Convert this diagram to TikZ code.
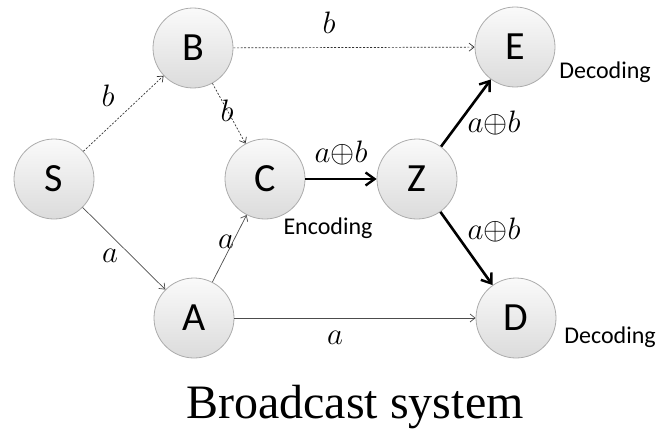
\documentclass[tikz,border=0pt]{standalone}
\usepackage{fix-cm}
\usepackage{fontspec}
\setmainfont{Liberation Serif}
\newfontfamily\nodefont{Carlito}
\usetikzlibrary{positioning,arrows.meta,calc}

\newcommand{\xorab}{$a{\oplus}b$}

\begin{document}
\begin{tikzpicture}[
            x=1pt, y=-1pt,
            vtx/.style={
                circle, draw=gray!65, line width=0.8pt, top color=gray!4, bottom color=gray!28, minimum size=80pt, inner sep=0pt, font=\nodefont\fontsize{40}{40}\selectfont
            },
            lbl/.style={
                inner sep=0pt, font=\fontsize{31}{31}\selectfont
            },
            note/.style={
                inner sep=0pt, font=\nodefont\fontsize{24}{24}\selectfont
            },
            flow/.style={
                -{Straight Barb[length=5pt,width=8pt]}, draw=black!70, line width=0.7pt
            },
            dflow/.style={
                flow, draw=black!80, dash pattern=on 2pt off 1.6pt
            },
            coded/.style={
                -{Straight Barb[length=9pt,width=13pt,line width=2.4pt]}, draw=black, line width=2.6pt
            }
        ]
            \useasboundingbox (0,0) rectangle (658,428);

            % --- NODES ---
            \node[vtx] (S) at (54,179) {S};
            \node[vtx] (B) at (193,48) {B};
            \node[vtx] (A) at (194,318) {A};
            \node[vtx] (C) at (265,179) {C};
            \node[vtx] (Z) at (417,179) {Z};
            \node[vtx] (E) at (515,47) {E};
            \node[vtx] (D) at (516,318) {D};

            % --- LINKS CARRYING b (DASHED) ---
            \draw[dflow] (S) -- (B);
            \draw[dflow] (B) -- (C);
            \draw[dflow] (B) -- (E);

            % --- LINKS CARRYING a ---
            \draw[flow] (S) -- (A);
            \draw[flow] (A) -- (C);
            \draw[flow] (A) -- (D);

            % --- CODED LINKS ---
            \draw[coded] (C) -- (Z);
            \draw[coded] (Z) -- (E);
            \draw[coded] (Z) -- (D);

            % --- LABELS ---
            \node[lbl] (lSB) at (108,96) {$b$};
            \node[lbl] (lBE) at (329,23) {$b$};
            \node[lbl] (lBC) at (227,111) {$b$};
            \node[lbl] (lSA) at (110,256) {$a$};
            \node[lbl] (lAC) at (226,242) {$a$};
            \node[lbl] (lAD) at (335,338) {$a$};
            \node[lbl] (lCZ) at (341,153) {\xorab};
            \node[lbl] (lZE) at (494,123) {\xorab};
            \node[lbl] (lZD) at (494,230) {\xorab};

            \node[note] (enc) at (328,228) {Encoding};
            \node[note] (decE) at (605,72) {Decoding};
            \node[note] (decD) at (610,337) {Decoding};

            % --- TITLE ---
            \node[anchor=base, inner sep=0pt, font=\fontsize{48}{48}\selectfont] (title) at (355,418) {Broadcast system};
        \end{tikzpicture}
\end{document}
